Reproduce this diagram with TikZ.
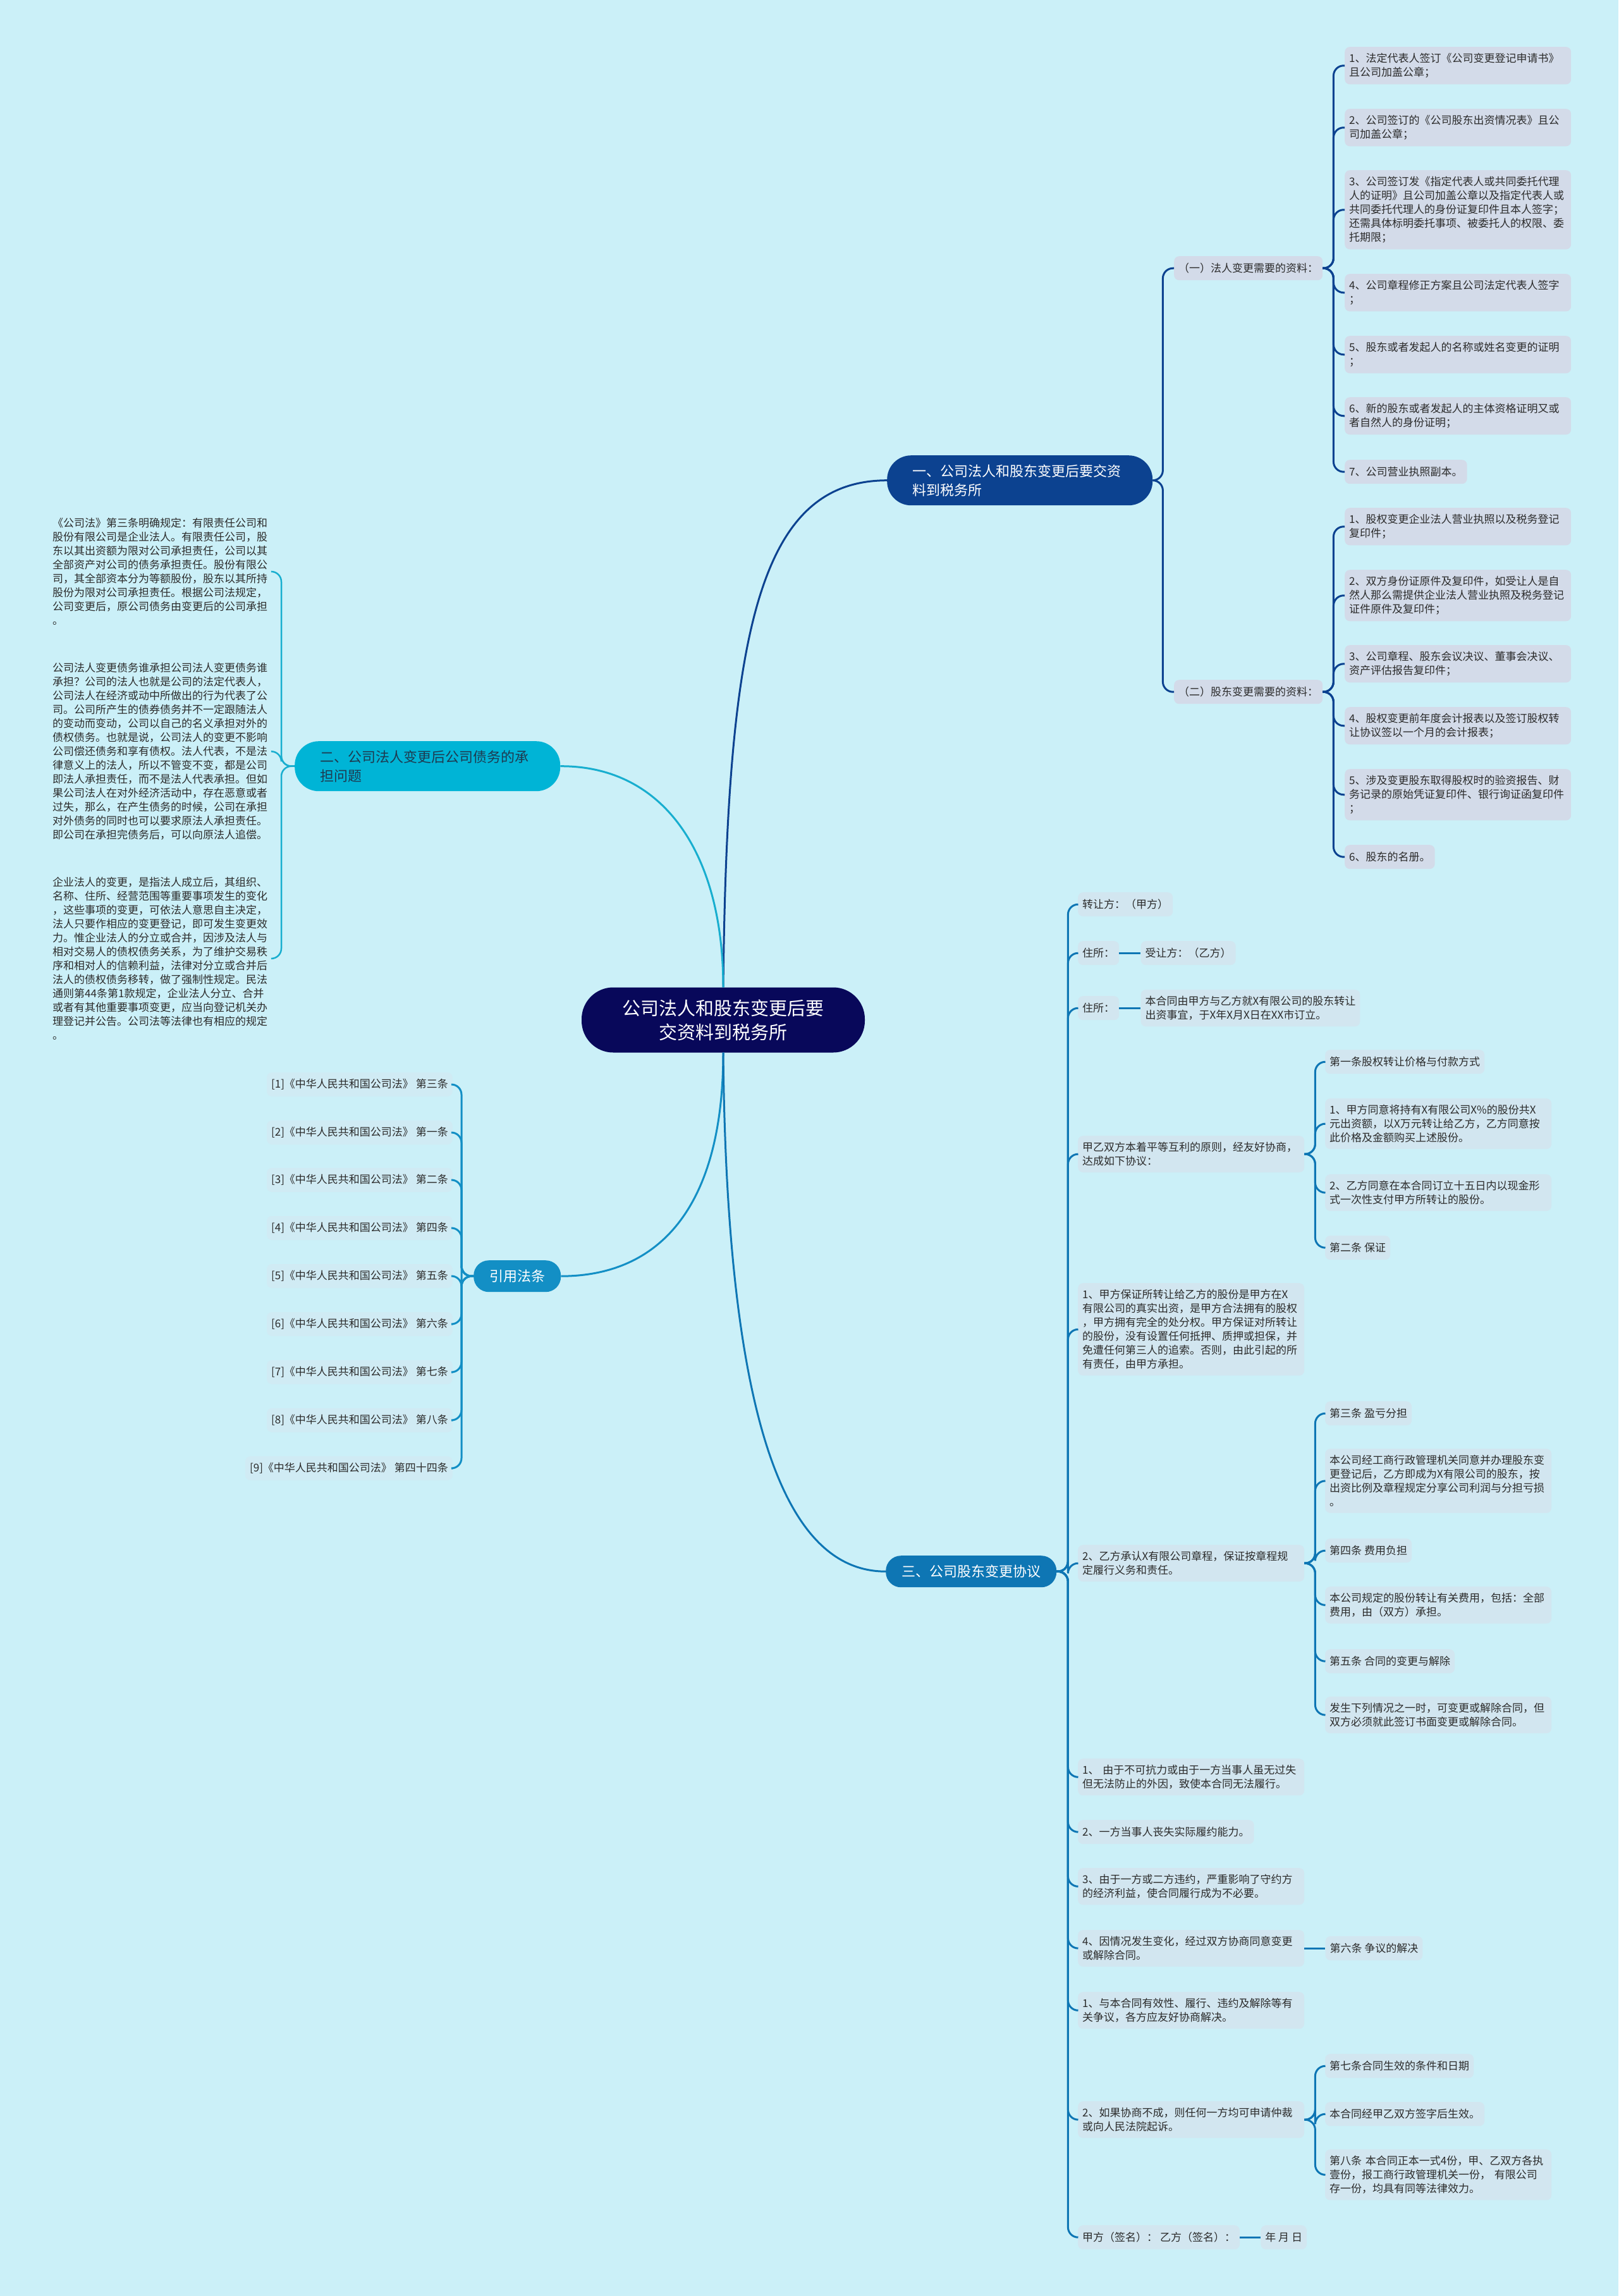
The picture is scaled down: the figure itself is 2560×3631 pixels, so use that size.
\documentclass[tikz,border=0pt]{standalone}
\usepackage{fontspec}
\setmainfont{Noto Sans CJK SC}
\usetikzlibrary{positioning}
\definecolor{bgc}{HTML}{CBF0F8}
\definecolor{rootc}{HTML}{08085A}
\definecolor{navyc}{HTML}{0C4290}
\definecolor{cyanc}{HTML}{00B4D6}
\definecolor{cyanl}{HTML}{18AECF}
\definecolor{lawc}{HTML}{138FC5}
\definecolor{dealc}{HTML}{0E76B4}
\definecolor{navyleaf}{HTML}{D3DBE9}
\definecolor{dealleaf}{HTML}{D2E6F0}
\definecolor{lawleaf}{HTML}{D0EBF4}
\definecolor{inkc}{HTML}{2B2B2B}
\definecolor{darkink}{HTML}{1E3A50}

\begin{document}
\begin{tikzpicture}[x=1pt,y=-1pt,
    every node/.style={font=\fontsize{17}{22}\selectfont,text=inkc},
    leaf/.style={rounded corners=8pt,inner xsep=7pt,inner ysep=10pt,minimum height=38pt,align=left,anchor=north west},
    wide/.style={text width=344pt},
    nleaf/.style={leaf,fill=navyleaf},
    dleaf/.style={leaf,fill=dealleaf},
    lleaf/.style={leaf,fill=lawleaf,anchor=east},
    plain/.style={align=left,inner xsep=6pt,inner ysep=2pt,anchor=north west},
    branch/.style={rounded corners=38pt,minimum height=79pt,inner xsep=40pt,text width=340pt,align=left,anchor=north west,font=\fontsize{22}{30}\selectfont},
    pill/.style={rounded corners=24pt,minimum height=50pt,inner xsep=25pt,anchor=north west,text=white,font=\fontsize{22}{30}\selectfont},
    trunk/.style={line width=3pt},
    navyline/.style={draw=navyc,line width=3pt,rounded corners=16pt},
    cyanline/.style={draw=cyanl,line width=2.5pt,rounded corners=16pt},
    lawline/.style={draw=lawc,line width=3pt,rounded corners=16pt},
    dealline/.style={draw=dealc,line width=3pt,rounded corners=16pt}]

  \fill[bgc] (0,0) rectangle (2560,3631);
  \useasboundingbox (0,0) rectangle (2560,3631);

  % root and main branches
  \node[fill=rootc,text=white,rounded corners=50pt,minimum width=448pt,minimum height=103pt,align=center,font=\fontsize{29}{38}\selectfont] (root) at (1144,1613) {公司法人和股东变更后要\\交资料到税务所};
  \node[branch,fill=navyc,text=white] (b1) at (1403,720) {一、公司法人和股东变更后要交资\\料到税务所};
  \node[branch,fill=cyanc,text=darkink] (b2) at (466,1172) {二、公司法人变更后公司债务的承\\担问题};
  \node[pill,fill=lawc] (b3) at (749,1993) {引用法条};
  \node[pill,fill=dealc] (b4) at (1401,2460) {三、公司股东变更协议};

  \draw[trunk,navyc] (root.north) .. controls (1150,1000) and (1200,760) .. (b1.west);
  \draw[trunk,cyanl] (root.north) .. controls (1144,1350) and (1050,1211) .. (b2.east);
  \draw[trunk,lawc] (root.south) .. controls (1144,1900) and (1050,2018) .. (b3.east);
  \draw[trunk,dealc] (root.south) .. controls (1150,2300) and (1260,2485) .. (b4.west);

  % 一
  \node[nleaf] (c1) at (1857,405) {（一）法人变更需要的资料：};
  \node[nleaf] (c2) at (1857,1075) {（二）股东变更需要的资料：};
  \draw[navyline] (b1.east) -- ++(16,0) |- (c1.west);
  \draw[navyline] (b1.east) -- ++(16,0) |- (c2.west);

  \node[nleaf,wide] (d1) at (2127,74) {1、法定代表人签订《公司变更登记申请书》\\且公司加盖公章；};
  \node[nleaf,wide] (d2) at (2127,172) {2、公司签订的《公司股东出资情况表》且公\\司加盖公章；};
  \node[nleaf,wide] (d3) at (2127,269) {3、公司签订发《指定代表人或共同委托代理\\人的证明》且公司加盖公章以及指定代表人或\\共同委托代理人的身份证复印件且本人签字；\\还需具体标明委托事项、被委托人的权限、委\\托期限；};
  \node[nleaf,wide] (d4) at (2127,433) {4、公司章程修正方案且公司法定代表人签字\\；};
  \node[nleaf,wide] (d5) at (2127,531) {5、股东或者发起人的名称或姓名变更的证明\\；};
  \node[nleaf,wide] (d6) at (2127,628) {6、新的股东或者发起人的主体资格证明又或\\者自然人的身份证明；};
  \node[nleaf] (d7) at (2127,727) {7、公司营业执照副本。};
  \draw[navyline] (c1.east) -- ++(17,0) |- (d1.west);
  \draw[navyline] (c1.east) -- ++(17,0) |- (d2.west);
  \draw[navyline] (c1.east) -- ++(17,0) |- (d3.west);
  \draw[navyline] (c1.east) -- ++(17,0) |- (d4.west);
  \draw[navyline] (c1.east) -- ++(17,0) |- (d5.west);
  \draw[navyline] (c1.east) -- ++(17,0) |- (d6.west);
  \draw[navyline] (c1.east) -- ++(17,0) |- (d7.west);

  \node[nleaf,wide] (e1) at (2127,803) {1、股权变更企业法人营业执照以及税务登记\\复印件；};
  \node[nleaf,wide] (e2) at (2127,901) {2、双方身份证原件及复印件，如受让人是自\\然人那么需提供企业法人营业执照及税务登记\\证件原件及复印件；};
  \node[nleaf,wide] (e3) at (2127,1020) {3、公司章程、股东会议决议、董事会决议、\\资产评估报告复印件；};
  \node[nleaf,wide] (e4) at (2127,1118) {4、股权变更前年度会计报表以及签订股权转\\让协议签以一个月的会计报表；};
  \node[nleaf,wide] (e5) at (2127,1216) {5、涉及变更股东取得股权时的验资报告、财\\务记录的原始凭证复印件、银行询证函复印件\\；};
  \node[nleaf] (e6) at (2127,1336) {6、股东的名册。};
  \draw[navyline] (c2.east) -- ++(17,0) |- (e1.west);
  \draw[navyline] (c2.east) -- ++(17,0) |- (e2.west);
  \draw[navyline] (c2.east) -- ++(17,0) |- (e3.west);
  \draw[navyline] (c2.east) -- ++(17,0) |- (e4.west);
  \draw[navyline] (c2.east) -- ++(17,0) |- (e5.west);
  \draw[navyline] (c2.east) -- ++(17,0) |- (e6.west);

  % 二
  \node[plain] (p1) at (77,817) {《公司法》第三条明确规定：有限责任公司和\\股份有限公司是企业法人。有限责任公司，股\\东以其出资额为限对公司承担责任，公司以其\\全部资产对公司的债务承担责任。股份有限公\\司，其全部资本分为等额股份，股东以其所持\\股份为限对公司承担责任。根据公司法规定，\\公司变更后，原公司债务由变更后的公司承担\\。};
  \node[plain] (p2) at (77,1046) {公司法人变更债务谁承担公司法人变更债务谁\\承担？公司的法人也就是公司的法定代表人，\\公司法人在经济或动中所做出的行为代表了公\\司。公司所产生的债券债务并不一定跟随法人\\的变动而变动，公司以自己的名义承担对外的\\债权债务。也就是说，公司法人的变更不影响\\公司偿还债务和享有债权。法人代表，不是法\\律意义上的法人，所以不管变不变，都是公司\\即法人承担责任，而不是法人代表承担。但如\\果公司法人在对外经济活动中，存在恶意或者\\过失，那么，在产生债务的时候，公司在承担\\对外债务的同时也可以要求原法人承担责任。\\即公司在承担完债务后，可以向原法人追偿。};
  \node[plain] (p3) at (77,1385) {企业法人的变更，是指法人成立后，其组织、\\名称、住所、经营范围等重要事项发生的变化\\，这些事项的变更，可依法人意思自主决定，\\法人只要作相应的变更登记，即可发生变更效\\力。惟企业法人的分立或合并，因涉及法人与\\相对交易人的债权债务关系，为了维护交易秩\\序和相对人的信赖利益，法律对分立或合并后\\法人的债权债务移转，做了强制性规定。民法\\通则第44条第1款规定，企业法人分立、合并\\或者有其他重要事项变更，应当向登记机关办\\理登记并公告。公司法等法律也有相应的规定\\。};
  \draw[cyanline] (b2.west) -- ++(-21,0) |- (p1.east);
  \draw[cyanline] (b2.west) -- ++(-21,0) |- (p2.east);
  \draw[cyanline] (b2.west) -- ++(-21,0) |- (p3.east);

  % 引用法条
  \node[lleaf] (q1) at (716,1715) {[1]《中华人民共和国公司法》 第三条};
  \node[lleaf] (q2) at (716,1791) {[2]《中华人民共和国公司法》 第一条};
  \node[lleaf] (q3) at (716,1866) {[3]《中华人民共和国公司法》 第二条};
  \node[lleaf] (q4) at (716,1942) {[4]《中华人民共和国公司法》 第四条};
  \node[lleaf] (q5) at (716,2018) {[5]《中华人民共和国公司法》 第五条};
  \node[lleaf] (q6) at (716,2094) {[6]《中华人民共和国公司法》 第六条};
  \node[lleaf] (q7) at (716,2170) {[7]《中华人民共和国公司法》 第七条};
  \node[lleaf] (q8) at (716,2246) {[8]《中华人民共和国公司法》 第八条};
  \node[lleaf] (q9) at (716,2322) {[9]《中华人民共和国公司法》 第四十四条};
  \draw[lawline] (b3.west) -- ++(-19,0) |- (q1.east);
  \draw[lawline] (b3.west) -- ++(-19,0) |- (q2.east);
  \draw[lawline] (b3.west) -- ++(-19,0) |- (q3.east);
  \draw[lawline] (b3.west) -- ++(-19,0) |- (q4.east);
  \draw[lawline] (b3.west) -- ++(-19,0) |- (q5.east);
  \draw[lawline] (b3.west) -- ++(-19,0) |- (q6.east);
  \draw[lawline] (b3.west) -- ++(-19,0) |- (q7.east);
  \draw[lawline] (b3.west) -- ++(-19,0) |- (q8.east);
  \draw[lawline] (b3.west) -- ++(-19,0) |- (q9.east);

  % 三
  \node[dleaf] (f1) at (1705,1411) {转让方：（甲方）};
  \node[dleaf] (f2) at (1705,1488) {住所：};
  \node[dleaf,anchor=west,right=34pt of f2] (g1) {受让方：（乙方）};
  \node[dleaf] (f3) at (1705,1575) {住所：};
  \node[dleaf,anchor=west,right=34pt of f3] (g2) {本合同由甲方与乙方就X有限公司的股东转让\\出资事宜，于X年X月X日在XX市订立。};
  \node[dleaf,wide] (f4) at (1705,1796) {甲乙双方本着平等互利的原则，经友好协商，\\达成如下协议：};
  \node[dleaf,wide] (f5) at (1705,2029) {1、甲方保证所转让给乙方的股份是甲方在X\\有限公司的真实出资，是甲方合法拥有的股权\\，甲方拥有完全的处分权。甲方保证对所转让\\的股份，没有设置任何抵押、质押或担保，并\\免遭任何第三人的追索。否则，由此引起的所\\有责任，由甲方承担。};
  \node[dleaf,wide] (f6) at (1705,2443) {2、乙方承认X有限公司章程，保证按章程规\\定履行义务和责任。};
  \node[dleaf,wide] (f7) at (1705,2781) {1、 由于不可抗力或由于一方当事人虽无过失\\但无法防止的外因，致使本合同无法履行。};
  \node[dleaf] (f8) at (1705,2878) {2、一方当事人丧失实际履约能力。};
  \node[dleaf,wide] (f9) at (1705,2954) {3、由于一方或二方违约，严重影响了守约方\\的经济利益，使合同履行成为不必要。};
  \node[dleaf,wide] (f10) at (1705,3052) {4、因情况发生变化，经过双方协商同意变更\\或解除合同。};
  \node[dleaf,wide] (f11) at (1705,3150) {1、与本合同有效性、履行、违约及解除等有\\关争议，各方应友好协商解决。};
  \node[dleaf,wide] (f12) at (1705,3323) {2、如果协商不成，则任何一方均可申请仲裁\\或向人民法院起诉。};
  \node[dleaf] (f13) at (1705,3519) {甲方（签名）： 乙方（签名）：};
  \node[dleaf,anchor=west,right=33pt of f13] (g3) {年 月 日};
  \draw[dealline] (b4.east) -- ++(18,0) |- (f1.west);
  \draw[dealline] (b4.east) -- ++(18,0) |- (f2.west);
  \draw[dealline] (b4.east) -- ++(18,0) |- (f3.west);
  \draw[dealline] (b4.east) -- ++(18,0) |- (f4.west);
  \draw[dealline] (b4.east) -- ++(18,0) |- (f5.west);
  \draw[dealline] (b4.east) -- ++(18,0) |- (f6.west);
  \draw[dealline] (b4.east) -- ++(18,0) |- (f7.west);
  \draw[dealline] (b4.east) -- ++(18,0) |- (f8.west);
  \draw[dealline] (b4.east) -- ++(18,0) |- (f9.west);
  \draw[dealline] (b4.east) -- ++(18,0) |- (f10.west);
  \draw[dealline] (b4.east) -- ++(18,0) |- (f11.west);
  \draw[dealline] (b4.east) -- ++(18,0) |- (f12.west);
  \draw[dealline] (b4.east) -- ++(18,0) |- (f13.west);
  \draw[dealline] (f2) -- (g1);
  \draw[dealline] (f3) -- (g2);
  \draw[dealline] (f13) -- (g3);

  \node[dleaf] (h1) at (2096,1660) {第一条股权转让价格与付款方式};
  \node[dleaf,wide] (h2) at (2096,1737) {1、甲方同意将持有X有限公司X\%的股份共X\\元出资额，以X万元转让给乙方，乙方同意按\\此价格及金额购买上述股份。};
  \node[dleaf,wide] (h3) at (2096,1857) {2、乙方同意在本合同订立十五日内以现金形\\式一次性支付甲方所转让的股份。};
  \node[dleaf] (h4) at (2096,1954) {第二条 保证};
  \draw[dealline] (f4.east) -- ++(17,0) |- (h1.west);
  \draw[dealline] (f4.east) -- ++(17,0) |- (h2.west);
  \draw[dealline] (f4.east) -- ++(17,0) |- (h3.west);
  \draw[dealline] (f4.east) -- ++(17,0) |- (h4.west);

  \node[dleaf] (i1) at (2096,2216) {第三条 盈亏分担};
  \node[dleaf,wide] (i2) at (2096,2291) {本公司经工商行政管理机关同意并办理股东变\\更登记后，乙方即成为X有限公司的股东，按\\出资比例及章程规定分享公司利润与分担亏损\\。};
  \node[dleaf] (i3) at (2096,2433) {第四条 费用负担};
  \node[dleaf,wide] (i4) at (2096,2509) {本公司规定的股份转让有关费用，包括：全部\\费用，由（双方）承担。};
  \node[dleaf] (i5) at (2096,2608) {第五条 合同的变更与解除};
  \node[dleaf,wide] (i6) at (2096,2683) {发生下列情况之一时，可变更或解除合同，但\\双方必须就此签订书面变更或解除合同。};
  \draw[dealline] (f6.east) -- ++(17,0) |- (i1.west);
  \draw[dealline] (f6.east) -- ++(17,0) |- (i2.west);
  \draw[dealline] (f6.east) -- ++(17,0) |- (i3.west);
  \draw[dealline] (f6.east) -- ++(17,0) |- (i4.west);
  \draw[dealline] (f6.east) -- ++(17,0) |- (i5.west);
  \draw[dealline] (f6.east) -- ++(17,0) |- (i6.west);

  \node[dleaf,anchor=west,right=33pt of f10] (j1) {第六条 争议的解决};
  \draw[dealline] (f10) -- (j1);

  \node[dleaf] (k1) at (2096,3248) {第七条合同生效的条件和日期};
  \node[dleaf] (k2) at (2096,3324) {本合同经甲乙双方签字后生效。};
  \node[dleaf,wide] (k3) at (2096,3399) {第八条 本合同正本一式4份，甲、乙双方各执\\壹份，报工商行政管理机关一份， 有限公司\\存一份，均具有同等法律效力。};
  \draw[dealline] (f12.east) -- ++(17,0) |- (k1.west);
  \draw[dealline] (f12.east) -- ++(17,0) |- (k2.west);
  \draw[dealline] (f12.east) -- ++(17,0) |- (k3.west);
\end{tikzpicture}
\end{document}
